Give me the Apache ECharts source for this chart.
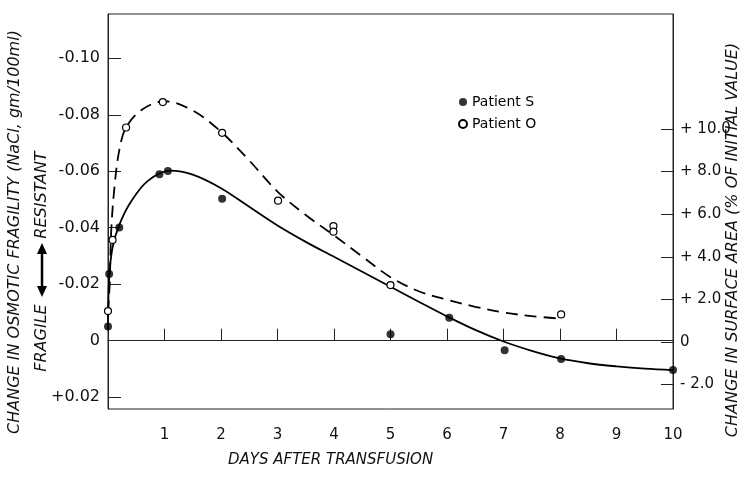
<!DOCTYPE html>
<html><head><meta charset="utf-8">
<script src="https://cdn.jsdelivr.net/npm/echarts@6/dist/echarts.min.js"></script>
<style>html,body{margin:0;padding:0;background:#fff}#c{width:746px;height:493px}</style>
</head><body><div id="c"></div>
<script>
// Observed points (days, change in osmotic fragility)
const patientS = [[0,-0.005],[0.02,-0.0236],[0.2,-0.0401],[0.91,-0.0589],[1.06,-0.0601],[2.02,-0.0503],[5.0,-0.0023],[6.04,-0.0081],[7.02,0.0034],[8.02,0.0065],[10.0,0.0104]];
const patientO = [[0,-0.0105],[0.08,-0.0357],[0.32,-0.0755],[0.97,-0.0845],[2.02,-0.0736],[3.01,-0.0496],[3.99,-0.0406],[3.99,-0.0386],[5.0,-0.0197],[8.02,-0.0093]];
// Fitted curves
const curveS = [[0,-0.004],[0.02,-0.022],[0.08,-0.033],[0.2,-0.041],[0.4,-0.049],[0.7,-0.0565],[1.1,-0.0602],[1.5,-0.0588],[2.0,-0.054],[2.5,-0.0474],[3.0,-0.0408],[3.5,-0.035],[4.0,-0.0297],[4.5,-0.0244],[5.0,-0.0191],[5.5,-0.0138],[6.0,-0.0086],[6.5,-0.0038],[7.0,0.0003],[7.5,0.0036],[8.0,0.0063],[8.5,0.008],[9.0,0.0091],[9.5,0.0099],[10,0.0104]];
const curveO = [[0,-0.010],[0.03,-0.020],[0.057,-0.039],[0.115,-0.0545],[0.2,-0.0675],[0.32,-0.0755],[0.6,-0.0818],[1.0,-0.0848],[1.5,-0.0815],[2.0,-0.074],[2.5,-0.0638],[3.0,-0.0528],[3.5,-0.0445],[4.0,-0.0373],[4.5,-0.0298],[5.0,-0.0225],[5.5,-0.0175],[6.0,-0.0145],[6.5,-0.012],[7.0,-0.01],[7.5,-0.0087],[8.02,-0.0078]];
const leftTicks = [-0.10,-0.08,-0.06,-0.04,-0.02,0,0.02];
const rightTicks = [-2,0,2,4,6,8,10];
const xTicks = [1,2,3,4,5,6,7,8,9,10];

const FONT = 'DejaVu Sans';
const chart = echarts.init(document.getElementById('c'), null, {renderer:'canvas'});
const axisCol = '#222';
chart.setOption({
  animation:false,
  backgroundColor:'#fff',
  grid:{left:108,right:73,top:14,bottom:84,show:true,borderColor:axisCol,borderWidth:1,backgroundColor:'transparent'},
  legend:{orient:'vertical',left:453,top:90,itemWidth:8,itemHeight:8,itemGap:8,
    data:['Patient S','Patient O'],
    textStyle:{fontFamily:FONT,fontSize:14,color:'#000'}},
  xAxis:{type:'value',min:0,max:10,interval:1,
    axisLine:{lineStyle:{color:axisCol,width:1}},
    axisTick:{inside:true,length:12,lineStyle:{color:axisCol}},
    axisLabel:{margin:19,fontFamily:FONT,fontSize:15,color:'#111',
      formatter:v=>xTicks.indexOf(v)>=0?String(v):''},
    splitLine:{show:false}},
  yAxis:[
    {type:'value',position:'left',inverse:true,min:-0.1157,max:0.0242,
     axisLine:{show:true,lineStyle:{color:axisCol}},
     axisTick:{show:true,inside:true,length:13,customValues:leftTicks,lineStyle:{color:axisCol}},
     axisLabel:{customValues:leftTicks,margin:8,fontFamily:FONT,fontSize:16,color:'#111',
       formatter:v=>Math.abs(v)<1e-9?'0':(v>0?'+'+v.toFixed(2):'-'+Math.abs(v).toFixed(2))},
     splitLine:{show:false}},
    {type:'value',position:'right',min:-3.146,max:15.4,
     axisLine:{show:true,lineStyle:{color:axisCol}},
     axisTick:{show:true,inside:true,length:12,customValues:rightTicks,lineStyle:{color:axisCol}},
     axisLabel:{customValues:rightTicks,margin:7,fontFamily:FONT,fontSize:15,color:'#111',
       formatter:v=>Math.abs(v)<1e-9?'0':(v>0?'+ '+v.toFixed(1):'- '+Math.abs(v).toFixed(1))},
     splitLine:{show:false}}
  ],
  series:[
    {name:'curveS',type:'line',data:curveS,smooth:0.35,showSymbol:false,silent:true,
     lineStyle:{color:'#000',width:1.8},z:2},
    {name:'curveO',type:'line',data:curveO,smooth:0.35,showSymbol:false,silent:true,
     lineStyle:{color:'#000',width:1.8,type:[12,7]},z:2},
    {name:'Patient S',type:'scatter',data:patientS,symbol:'circle',symbolSize:8,
     itemStyle:{color:'#000'},z:4},
    {name:'Patient O',type:'scatter',data:patientO,symbol:'circle',symbolSize:7,
     itemStyle:{color:'#fff',borderColor:'#000',borderWidth:1.2,opacity:1},z:5}
  ],
  graphic:[
    {type:'text',left:228,top:453,style:{text:'DAYS AFTER TRANSFUSION',fontFamily:FONT,fontStyle:'italic',fontSize:15,fill:'#111'}},
    {type:'text',x:15,y:232,rotation:Math.PI/2,style:{text:'CHANGE IN OSMOTIC FRAGILITY (NaCl, gm/100ml)',fontFamily:FONT,fontStyle:'italic',fontSize:16,fill:'#111',align:'center',verticalAlign:'middle'}},
    {type:'text',x:42,y:195,rotation:Math.PI/2,style:{text:'RESISTANT',fontFamily:FONT,fontStyle:'italic',fontSize:16,fill:'#111',align:'center',verticalAlign:'middle'}},
    {type:'text',x:42,y:338,rotation:Math.PI/2,style:{text:'FRAGILE',fontFamily:FONT,fontStyle:'italic',fontSize:16,fill:'#111',align:'center',verticalAlign:'middle'}},
    {type:'line',shape:{x1:42,y1:250,x2:42,y2:290},style:{stroke:'#000',lineWidth:2.5}},
    {type:'polygon',shape:{points:[[37,254],[47,254],[42,243]]},style:{fill:'#000'}},
    {type:'polygon',shape:{points:[[37,286],[47,286],[42,297]]},style:{fill:'#000'}},
    {type:'text',x:733,y:240,rotation:Math.PI/2,style:{text:'CHANGE IN SURFACE AREA (% OF INITIAL VALUE)',fontFamily:FONT,fontStyle:'italic',fontSize:16,fill:'#111',align:'center',verticalAlign:'middle'}}
  ]
});
</script></body></html>
